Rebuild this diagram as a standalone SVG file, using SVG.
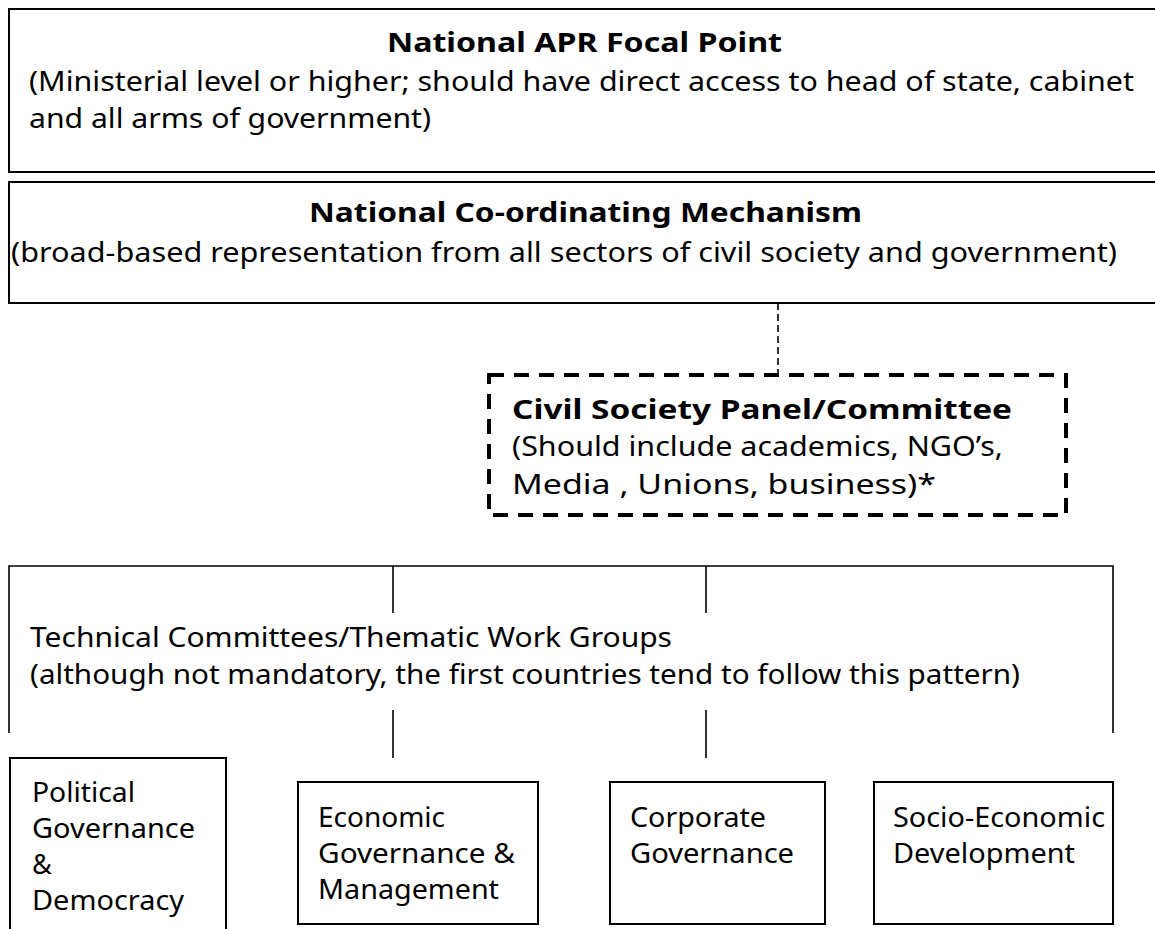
<svg xmlns="http://www.w3.org/2000/svg" width="1155" height="929" viewBox="0 0 1155 929">
<style>
.t{font-family:"Noto Sans","Open Sans","DejaVu Sans",sans-serif;font-size:27px;fill:#000}
.b{font-weight:bold}
.box{fill:#fff;stroke:#000;stroke-width:2}
.ln{fill:none;stroke:#000;stroke-width:1.6}
</style>
<rect width="1155" height="929" fill="#fff"/>
<g id="focal-point">
<rect class="box" x="9" y="9" width="1160" height="163" stroke-width="1.6"/>
<text class="t b" x="387" y="52" textLength="395" lengthAdjust="spacingAndGlyphs">National APR Focal Point</text>
<text class="t" x="29" y="91" textLength="1105" lengthAdjust="spacingAndGlyphs">(Ministerial level or higher; should have direct access to head of state, cabinet</text>
<text class="t" x="29" y="128" textLength="402" lengthAdjust="spacingAndGlyphs">and all arms of government)</text>
</g>
<g id="coordinating-mechanism">
<rect class="box" x="9" y="182" width="1160" height="121"/>
<text class="t b" x="309" y="222" textLength="553" lengthAdjust="spacingAndGlyphs">National Co-ordinating Mechanism</text>
<text class="t" x="11" y="262" textLength="1106" lengthAdjust="spacingAndGlyphs">(broad-based representation from all sectors of civil society and government)</text>
</g>
<g id="connectors">
<line x1="778" y1="303" x2="778" y2="375" stroke="#000" stroke-width="1.6" stroke-dasharray="7 4"/>
<path class="ln" d="M9 733 V566 H1113 V733"/>
<line class="ln" x1="393" y1="566" x2="393" y2="613"/>
<line class="ln" x1="706" y1="566" x2="706" y2="613"/>
<line class="ln" x1="393" y1="710" x2="393" y2="758"/>
<line class="ln" x1="706" y1="710" x2="706" y2="758"/>
</g>
<g id="civil-society">
<rect x="489" y="375" width="577" height="140" fill="#fff" stroke="#000" stroke-width="4" stroke-dasharray="15 10"/>
<text class="t b" x="512" y="419" textLength="500" lengthAdjust="spacingAndGlyphs">Civil Society Panel/Committee</text>
<text class="t" x="512" y="456" textLength="491" lengthAdjust="spacingAndGlyphs">(Should include academics, NGO’s,</text>
<text class="t" x="512" y="494" textLength="424" lengthAdjust="spacingAndGlyphs">Media , Unions, business)*</text>
</g>
<g id="technical-committees">
<text class="t" x="30" y="647" textLength="642" lengthAdjust="spacingAndGlyphs">Technical Committees/Thematic Work Groups</text>
<text class="t" x="30" y="684" textLength="990" lengthAdjust="spacingAndGlyphs">(although not mandatory, the first countries tend to follow this pattern)</text>
</g>
<g id="political-governance">
<rect class="box" x="10" y="758" width="216" height="180" stroke-width="1.6"/>
<text class="t" x="32" y="802" textLength="103" lengthAdjust="spacingAndGlyphs">Political</text>
<text class="t" x="32" y="838" textLength="163" lengthAdjust="spacingAndGlyphs">Governance</text>
<text class="t" x="32" y="874">&amp;</text>
<text class="t" x="32" y="910" textLength="152" lengthAdjust="spacingAndGlyphs">Democracy</text>
</g>
<g id="economic-governance">
<rect class="box" x="298" y="782" width="240" height="142" stroke-width="1.6"/>
<text class="t" x="318" y="827" textLength="127" lengthAdjust="spacingAndGlyphs">Economic</text>
<text class="t" x="318" y="863" textLength="197" lengthAdjust="spacingAndGlyphs">Governance &amp;</text>
<text class="t" x="318" y="899" textLength="181" lengthAdjust="spacingAndGlyphs">Management</text>
</g>
<g id="corporate-governance">
<rect class="box" x="610" y="782" width="215" height="142" stroke-width="1.6"/>
<text class="t" x="630" y="827" textLength="136" lengthAdjust="spacingAndGlyphs">Corporate</text>
<text class="t" x="630" y="863" textLength="164" lengthAdjust="spacingAndGlyphs">Governance</text>
</g>
<g id="socio-economic">
<rect class="box" x="874" y="782" width="239" height="142" stroke-width="1.6"/>
<text class="t" x="893" y="827" textLength="212" lengthAdjust="spacingAndGlyphs">Socio-Economic</text>
<text class="t" x="893" y="863" textLength="182" lengthAdjust="spacingAndGlyphs">Development</text>
</g>
</svg>
